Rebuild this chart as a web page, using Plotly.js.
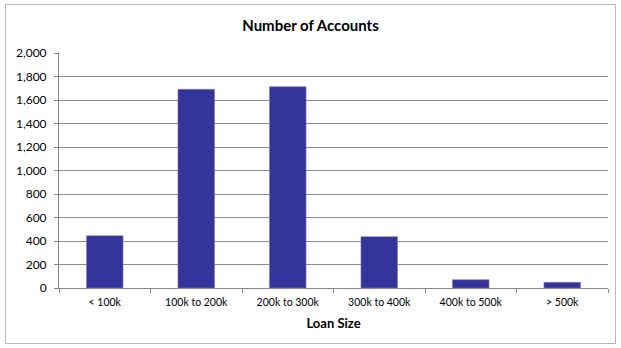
<!DOCTYPE html>
<html><head><meta charset="utf-8">
<script src="https://cdn.plot.ly/plotly-3.0.1.min.js"></script>
<style>
html,body{margin:0;padding:0;background:#fff;}
#frame{position:absolute;left:5px;top:4px;width:611px;height:340px;border:1px solid #b8b8b8;box-sizing:border-box;}
#chart{position:absolute;left:0;top:0;width:621px;height:348px;}
</style></head>
<body>
<div id="frame"></div>
<div id="chart"></div>
<script>
const categories = ["< 100k","100k to 200k","200k to 300k","300k to 400k","400k to 500k","> 500k"];
const accounts = [445, 1691, 1713, 437, 71, 48];
const yTicks = [0,200,400,600,800,1000,1200,1400,1600,1800,2000];
const yTickLabels = ["0","200","400","600","800","1,000","1,200","1,400","1,600","1,800","2,000"];

const font = "Lato, 'Open Sans', sans-serif";
Plotly.newPlot('chart', [{
  type:'bar', x:categories, y:accounts,
  marker:{color:'#333399', line:{color:'#8080c0', width:0.6}},
  hoverinfo:'skip'
}], {
  width:621, height:348,
  margin:{l:59, r:13, t:53, b:60, pad:0},
  paper_bgcolor:'rgba(0,0,0,0)', plot_bgcolor:'rgba(0,0,0,0)',
  bargap:0.6,
  showlegend:false,
  title:{text:'<b>Number of Accounts</b>', font:{family:font, size:15, color:'#000'}, x:0.5, xanchor:'center', y:0.925, yanchor:'middle'},
  xaxis:{
    type:'category', tickson:'boundaries', ticks:'outside', ticklen:4, tickcolor:'#888',
    showline:true, linecolor:'#888', linewidth:1, showgrid:false,
    ticklabelstandoff:4,
    tickfont:{family:font, size:10.5, color:'#000'},
    title:{text:'<b>Loan Size</b>', font:{family:font, size:13, color:'#000'}, standoff:12}
  },
  yaxis:{
    range:[0,2000], tickvals:yTicks, ticktext:yTickLabels,
    ticks:'outside', ticklen:4, tickcolor:'#888',
    showline:true, linecolor:'#888', linewidth:1,
    ticklabelstandoff:5,
    showgrid:true, gridcolor:'#8c8c8c', gridwidth:1, zeroline:false,
    tickfont:{family:font, size:12, color:'#000'}
  }
}, {staticPlot:true, displayModeBar:false});
</script>
</body></html>
